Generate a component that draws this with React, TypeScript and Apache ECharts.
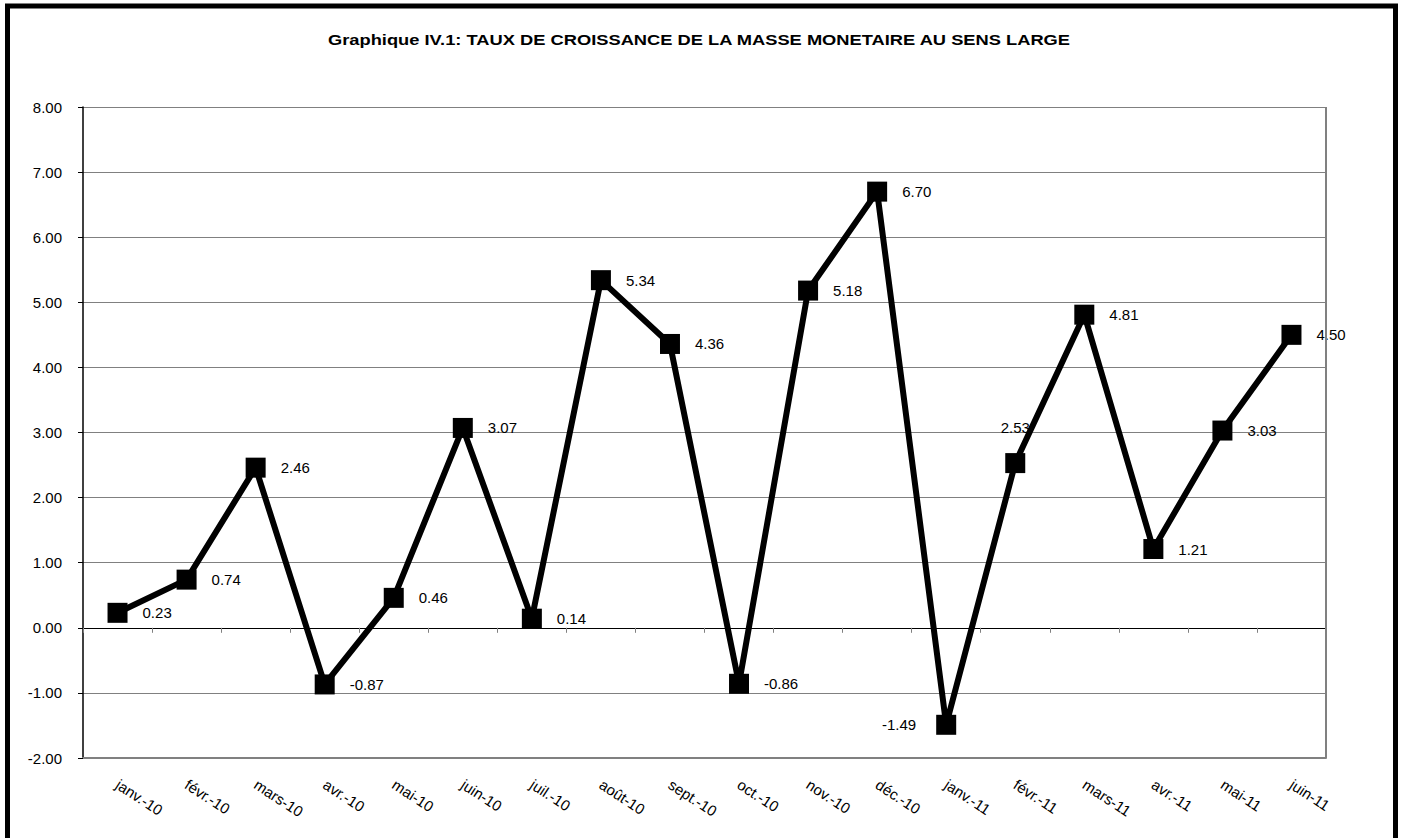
import React, { useEffect, useRef } from "react";
import * as echarts from "echarts";

const categories = [
  "janv.-10", "févr.-10", "mars-10", "avr.-10", "mai-10", "juin-10",
  "juil.-10", "août-10", "sept.-10", "oct.-10", "nov.-10", "déc.-10",
  "janv.-11", "févr.-11", "mars-11", "avr.-11", "mai-11", "juin-11",
];
const values = [0.23, 0.74, 2.46, -0.87, 0.46, 3.07, 0.14, 5.34, 4.36, -0.86, 5.18, 6.7, -1.49, 2.53, 4.81, 1.21, 3.03, 4.5];
const titleText = "Graphique IV.1: TAUX DE CROISSANCE DE LA MASSE MONETAIRE AU SENS LARGE";
const yMin = -2;
const yMax = 8;
const yStep = 1;

export default function App() {
  const ref = useRef<HTMLDivElement>(null);
  useEffect(() => {
    if (!ref.current) return;
    const chart = echarts.init(ref.current, null, { renderer: "svg" });
    const font = "Arial, 'Liberation Sans', sans-serif";
    const data = values.map((v, i) => {
      const item: any = { value: v };
      if (categories[i] === "févr.-11") {
        item.label = { position: "top", distance: 18 };
      } else if (categories[i] === "janv.-11") {
        item.label = { position: "left", distance: 20 };
      }
      return item;
    });
    chart.setOption({
      animation: false,
      backgroundColor: "#ffffff",
      grid: { left: 83, right: 77, top: 107, bottom: 80, containLabel: false },
      xAxis: [
        {
          type: "category",
          data: categories,
          position: "top",
          boundaryGap: true,
          axisLine: { onZero: true, lineStyle: { color: "#000", width: 1.2 } },
          axisTick: { show: true, inside: true, length: 5, lineStyle: { color: "#808080" } },
          axisLabel: { show: false },
          splitLine: { show: false },
        },
        {
          type: "category",
          data: categories,
          position: "bottom",
          boundaryGap: true,
          axisLine: { onZero: false, show: true, lineStyle: { color: "#808080", width: 2 } },
          axisTick: { show: false },
          axisLabel: {
            show: true,
            interval: 0,
            rotate: -33,
            margin: 25,
            fontFamily: font,
            fontSize: 15,
            color: "#000",
          },
          splitLine: { show: false },
        },
      ],
      yAxis: {
        type: "value",
        min: yMin,
        max: yMax,
        interval: yStep,
        axisLine: { show: true, onZero: false, lineStyle: { color: "#000", width: 1.5 } },
        axisTick: { show: true, length: 5, lineStyle: { color: "#000" } },
        axisLabel: {
          formatter: (v: number) => v.toFixed(2),
          fontFamily: font,
          fontSize: 15,
          color: "#000",
          margin: 21,
        },
        splitLine: { show: true, lineStyle: { color: "#808080", width: 1 } },
      },
      graphic: [
        {
          type: "text",
          x: 699,
          y: 40,
          scaleX: 1.22,
          style: {
            text: titleText,
            fontFamily: font,
            fontSize: 15,
            fontWeight: "bold",
            fill: "#000",
            align: "center",
            verticalAlign: "middle",
          },
          z: 10,
        },
        {
          type: "rect",
          shape: { x: 1326, y: 107, width: 0, height: 651 },
          style: { fill: "none", stroke: "#808080", lineWidth: 2 },
          z: 10,
        },
        {
          type: "rect",
          shape: { x: 7.5, y: 6, width: 1388, height: 900 },
          style: { fill: "none", stroke: "#000", lineWidth: 5 },
          z: 10,
        },
      ],
      series: [
        {
          type: "line",
          xAxisIndex: 1,
          data,
          symbol: "rect",
          symbolSize: 20,
          lineStyle: { color: "#000", width: 6 },
          itemStyle: { color: "#000" },
          label: {
            show: true,
            position: "right",
            distance: 15,
            formatter: (p: any) => Number(p.value).toFixed(2),
            fontFamily: font,
            fontSize: 15,
            color: "#000",
          },
        },
      ],
    });
    return () => chart.dispose();
  }, []);
  return (
    <div
      ref={ref}
      style={{ position: "absolute", left: 0, top: 0, width: 1403, height: 838 }}
    />
  );
}
